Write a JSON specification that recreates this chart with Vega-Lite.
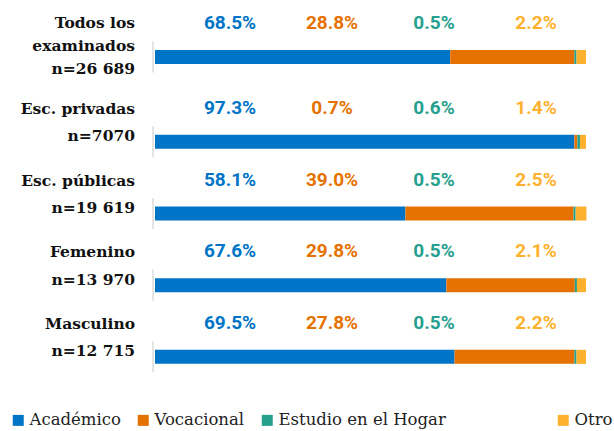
{
  "$schema": "https://vega.github.io/schema/vega-lite/v6.json",
  "autosize": {"type": "pad"},
  "padding": {"left": 10, "top": 14, "right": 0, "bottom": 0},
  "background": "white",
  "spacing": 13,
  "bounds": "flush",
  "config": {"view": {"stroke": null}},
  "data": {"values": [
    {"grupo": "Todos los\nexaminados\nn=26 689", "serie": "Académico", "valor": 68.5},
    {"grupo": "Todos los\nexaminados\nn=26 689", "serie": "Vocacional", "valor": 28.8},
    {"grupo": "Todos los\nexaminados\nn=26 689", "serie": "Estudio en el Hogar", "valor": 0.5},
    {"grupo": "Todos los\nexaminados\nn=26 689", "serie": "Otro", "valor": 2.2},
    {"grupo": "Esc. privadas\nn=7070", "serie": "Académico", "valor": 97.3},
    {"grupo": "Esc. privadas\nn=7070", "serie": "Vocacional", "valor": 0.7},
    {"grupo": "Esc. privadas\nn=7070", "serie": "Estudio en el Hogar", "valor": 0.6},
    {"grupo": "Esc. privadas\nn=7070", "serie": "Otro", "valor": 1.4},
    {"grupo": "Esc. públicas\nn=19 619", "serie": "Académico", "valor": 58.1},
    {"grupo": "Esc. públicas\nn=19 619", "serie": "Vocacional", "valor": 39.0},
    {"grupo": "Esc. públicas\nn=19 619", "serie": "Estudio en el Hogar", "valor": 0.5},
    {"grupo": "Esc. públicas\nn=19 619", "serie": "Otro", "valor": 2.5},
    {"grupo": "Femenino\nn=13 970", "serie": "Académico", "valor": 67.6},
    {"grupo": "Femenino\nn=13 970", "serie": "Vocacional", "valor": 29.8},
    {"grupo": "Femenino\nn=13 970", "serie": "Estudio en el Hogar", "valor": 0.5},
    {"grupo": "Femenino\nn=13 970", "serie": "Otro", "valor": 2.1},
    {"grupo": "Masculino\nn=12 715", "serie": "Académico", "valor": 69.5},
    {"grupo": "Masculino\nn=12 715", "serie": "Vocacional", "valor": 27.8},
    {"grupo": "Masculino\nn=12 715", "serie": "Estudio en el Hogar", "valor": 0.5},
    {"grupo": "Masculino\nn=12 715", "serie": "Otro", "valor": 2.2}
  ]},
  "vconcat": [
    {
      "width": 431,
      "height": 72,
      "transform": [{"filter": "datum.grupo === 'Todos los\\nexaminados\\nn=26 689'"}],
      "encoding": {
        "y": {"field": "grupo", "type": "nominal", "sort": null, "axis": null,
              "scale": {"paddingInner": 0, "paddingOuter": 0}}
      },
      "layer": [
        {
          "transform": [{"calculate": "indexof(['Académico','Vocacional','Estudio en el Hogar','Otro'], datum.serie)", "as": "orden"}],
          "mark": {"type": "bar", "size": 14},
          "encoding": {
            "x": {"field": "valor", "type": "quantitative", "stack": "zero",
                  "scale": {"domain": [0, 100], "nice": false, "zero": true}, "axis": null},
            "order": {"field": "orden", "type": "quantitative", "sort": "ascending"},
            "color": {"field": "serie", "type": "nominal",
                      "sort": ["Académico", "Vocacional", "Estudio en el Hogar", "Otro"],
                      "scale": {"domain": ["Académico", "Vocacional", "Estudio en el Hogar", "Otro"],
                                "range": ["#0074C6", "#E57200", "#26A08E", "#FDB12E"]},
                      "legend": {"title": null, "orient": "none", "legendX": -145, "legendY": 391,
                                 "direction": "horizontal", "columns": 4, "symbolType": "square",
                                 "symbolSize": 121, "symbolStrokeWidth": 0, "symbolOpacity": 1,
                                 "labelFont": "DejaVu Serif", "labelFontSize": 16.5, "labelColor": "#222",
                                 "labelOffset": 3, "columnPadding": 14, "labelLimit": 400,
                                 "labelExpr": "datum.label === 'Estudio en el Hogar' ? datum.label + '\u00a0\u00a0\u00a0\u00a0\u00a0\u00a0\u00a0\u00a0\u00a0\u00a0\u00a0\u00a0\u00a0\u00a0\u00a0\u00a0\u00a0\u00a0\u200b' : datum.label"}}
          }
        },
        {
          "transform": [{"filter": "datum.serie === 'Académico'"}],
          "mark": {"type": "tick", "color": "#d9d9d9", "thickness": 2, "size": 31, "xOffset": -2},
          "encoding": {
            "x": {"datum": 0, "type": "quantitative", "scale": {"domain": [0, 100], "nice": false}, "axis": null}
          }
        },
        {
          "transform": [{"filter": "datum.serie === 'Académico'"}],
          "mark": {"type": "text", "align": "right", "baseline": "middle", "dx": -20, "dy": -34,
                   "lineBreak": "\n", "lineHeight": 23, "font": "DejaVu Serif", "fontWeight": "bold",
                   "fontSize": 15.5, "color": "#111"},
          "encoding": {
            "x": {"datum": 0, "type": "quantitative", "scale": {"domain": [0, 100], "nice": false}, "axis": null},
            "text": {"field": "grupo"}
          }
        },
        {
          "transform": [{"calculate": "format(datum.valor, '.1f') + '%'", "as": "etiqueta"}],
          "mark": {"type": "text", "align": "center", "baseline": "middle", "dy": -34,
                   "font": "Roboto", "fontWeight": "bold", "fontSize": 19},
          "encoding": {
            "x": {"field": "serie", "type": "nominal",
                  "sort": ["Académico", "Vocacional", "Estudio en el Hogar", "Otro"],
                  "scale": {"type": "point", "range": [75, 381], "padding": 0}, "axis": null},
            "text": {"field": "etiqueta"},
            "color": {"field": "serie", "type": "nominal", "legend": null}
          }
        }
      ],
      "resolve": {"scale": {"x": "independent"}}
    },
    {
      "width": 431,
      "height": 286.7,
      "transform": [{"filter": "datum.grupo !== 'Todos los\\nexaminados\\nn=26 689'"}],
      "encoding": {
        "y": {"field": "grupo", "type": "nominal", "sort": null, "axis": null,
              "scale": {"paddingInner": 0, "paddingOuter": 0}}
      },
      "layer": [
        {
          "transform": [{"calculate": "indexof(['Académico','Vocacional','Estudio en el Hogar','Otro'], datum.serie)", "as": "orden"}],
          "mark": {"type": "bar", "size": 14},
          "encoding": {
            "x": {"field": "valor", "type": "quantitative", "stack": "zero",
                  "scale": {"domain": [0, 100], "nice": false, "zero": true}, "axis": null},
            "order": {"field": "orden", "type": "quantitative", "sort": "ascending"},
            "color": {"field": "serie", "type": "nominal",
                      "sort": ["Académico", "Vocacional", "Estudio en el Hogar", "Otro"]}
          }
        },
        {
          "transform": [{"filter": "datum.serie === 'Académico'"}],
          "mark": {"type": "tick", "color": "#d9d9d9", "thickness": 2, "size": 31, "xOffset": -2},
          "encoding": {
            "x": {"datum": 0, "type": "quantitative", "scale": {"domain": [0, 100], "nice": false}, "axis": null}
          }
        },
        {
          "transform": [{"filter": "datum.serie === 'Académico'"}],
          "mark": {"type": "text", "align": "right", "baseline": "middle", "dx": -20, "dy": -33,
                   "lineBreak": "\n", "lineHeight": 27.5, "font": "DejaVu Serif", "fontWeight": "bold",
                   "fontSize": 15.5, "color": "#111"},
          "encoding": {
            "x": {"datum": 0, "type": "quantitative", "scale": {"domain": [0, 100], "nice": false}, "axis": null},
            "text": {"field": "grupo"}
          }
        },
        {
          "transform": [{"calculate": "format(datum.valor, '.1f') + '%'", "as": "etiqueta"}],
          "mark": {"type": "text", "align": "center", "baseline": "middle", "dy": -34,
                   "font": "Roboto", "fontWeight": "bold", "fontSize": 19},
          "encoding": {
            "x": {"field": "serie", "type": "nominal",
                  "sort": ["Académico", "Vocacional", "Estudio en el Hogar", "Otro"],
                  "scale": {"type": "point", "range": [75, 381], "padding": 0}, "axis": null},
            "text": {"field": "etiqueta"},
            "color": {"field": "serie", "type": "nominal", "legend": null}
          }
        }
      ],
      "resolve": {"scale": {"x": "independent"}}
    }
  ],
  "resolve": {"scale": {"y": "independent", "x": "independent"}}
}
